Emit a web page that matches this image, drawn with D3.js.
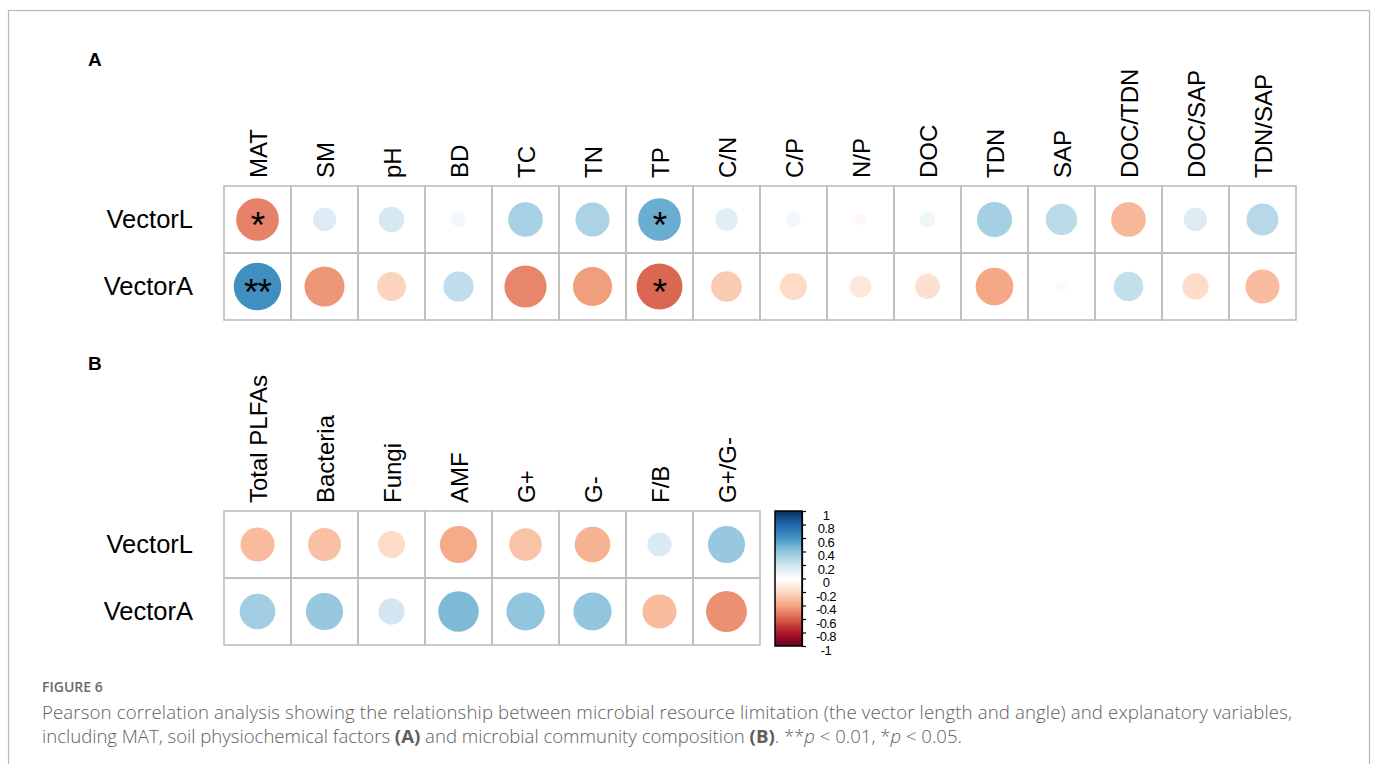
<!DOCTYPE html>
<html>
<head>
<meta charset="utf-8">
<script src="https://cdn.jsdelivr.net/npm/d3@7"></script>
<style>
  html, body { margin: 0; padding: 0; background: #ffffff; }
  svg { display: block; }
</style>
</head>
<body>
<svg id="fig" width="1377" height="764"></svg>
<script>
// ---- data -------------------------------------------------------------
const rowLabels = ["VectorL", "VectorA"];

// Panel A: MAT and soil physicochemical factors
const varsA = ["MAT", "SM", "pH", "BD", "TC", "TN", "TP", "C/N", "C/P", "N/P",
               "DOC", "TDN", "SAP", "DOC/TDN", "DOC/SAP", "TDN/SAP"];
const corrA_VectorL = [-0.50, 0.15, 0.18, 0.06, 0.33, 0.32, 0.50, 0.14, 0.06, -0.04,
                       0.07, 0.34, 0.27, -0.33, 0.15, 0.28];
const corrA_VectorA = [0.62, -0.44, -0.23, 0.25, -0.49, -0.42, -0.58, -0.26, -0.20, -0.13,
                       -0.17, -0.39, -0.04, 0.24, -0.19, -0.32];
const sigA_VectorL = ["*", "", "", "", "", "", "*", "", "", "", "", "", "", "", "", ""];
const sigA_VectorA = ["**", "", "", "", "", "", "*", "", "", "", "", "", "", "", "", ""];

// Panel B: microbial community composition
const varsB = ["Total PLFAs", "Bacteria", "Fungi", "AMF", "G+", "G-", "F/B", "G+/G-"];
const corrB_VectorL = [-0.32, -0.30, -0.20, -0.38, -0.29, -0.35, 0.16, 0.38];
const corrB_VectorA = [0.35, 0.38, 0.19, 0.45, 0.40, 0.40, -0.32, -0.46];

// Colour legend ticks
const legendTicks = [1, 0.8, 0.6, 0.4, 0.2, 0, -0.2, -0.4, -0.6, -0.8, -1];

// Diverging red-white-blue ramp, from -1 to 1
const rampColors = ["#67001F", "#B2182B", "#D6604D", "#F4A582", "#FDDBC7", "#FFFFFF",
                    "#D1E5F0", "#92C5DE", "#4393C3", "#2166AC", "#053061"];

// ---- setup ------------------------------------------------------------
const svg = d3.select("#fig");
const cell = 67;
const chartFont = "'Liberation Sans', Arial, Helvetica, sans-serif";

const color = d3.scaleLinear()
  .domain(d3.range(rampColors.length).map(i => -1 + i * 0.2))
  .range(rampColors)
  .interpolate(d3.interpolateRgb);
const radius = d3.scaleSqrt().domain([0, 1]).range([0, 0.45 * cell]);

// outer figure frame
svg.append("rect")
  .attr("x", 8.5).attr("y", 10.5)
  .attr("width", 1361).attr("height", 800)
  .attr("fill", "none").attr("stroke", "#b8b8b8").attr("stroke-width", 1.2);

function corrPanel(opts) {
  const { vars, rows, x0, y0, label, labelY } = opts;
  const g = svg.append("g");
  const x = d3.scaleBand().domain(vars).range([x0, x0 + vars.length * cell]);
  const y = d3.scaleBand().domain(rows.map(r => r.name)).range([y0, y0 + rows.length * cell]);

  // panel letter
  svg.append("text")
    .attr("x", 88).attr("y", labelY)
    .attr("font-family", chartFont).attr("font-weight", "bold")
    .attr("font-size", 19).attr("fill", "#000")
    .text(label);

  // circles and significance marks
  rows.forEach(r => {
    r.values.forEach((v, i) => {
      const cx = x(vars[i]) + x.bandwidth() / 2;
      const cy = y(r.name) + y.bandwidth() / 2;
      g.append("circle")
        .attr("cx", cx).attr("cy", cy)
        .attr("r", radius(Math.abs(v)))
        .attr("fill", color(v));
      if (r.sig && r.sig[i]) {
        g.append("text")
          .attr("x", cx).attr("y", cy + 18)
          .attr("text-anchor", "middle")
          .attr("font-family", chartFont)
          .attr("font-size", 37).attr("fill", "#000")
          .attr("letter-spacing", -1)
          .text(r.sig[i]);
      }
    });
  });

  // grid
  const gridCol = "#bdbdbd";
  vars.forEach(v => {
    rows.forEach(r => {
      g.append("rect")
        .attr("x", x(v)).attr("y", y(r.name))
        .attr("width", x.bandwidth()).attr("height", y.bandwidth())
        .attr("fill", "none").attr("stroke", gridCol).attr("stroke-width", 1.6);
    });
  });

  // column labels (vertical)
  vars.forEach(v => {
    const cx = x(v) + x.bandwidth() / 2;
    g.append("text")
      .attr("transform", `translate(${cx + 9},${y0 - 8}) rotate(-90)`)
      .attr("font-family", chartFont).attr("font-size", 24).attr("fill", "#000")
      .text(v);
  });

  // row labels
  rows.forEach(r => {
    g.append("text")
      .attr("x", x0 - 31)
      .attr("y", y(r.name) + y.bandwidth() / 2 + 8)
      .attr("text-anchor", "end")
      .attr("font-family", chartFont).attr("font-size", 25.5).attr("fill", "#000")
      .text(r.name);
  });
}

corrPanel({
  vars: varsA,
  rows: [
    { name: rowLabels[0], values: corrA_VectorL, sig: sigA_VectorL },
    { name: rowLabels[1], values: corrA_VectorA, sig: sigA_VectorA }
  ],
  x0: 224, y0: 186, label: "A", labelY: 66
});

corrPanel({
  vars: varsB,
  rows: [
    { name: rowLabels[0], values: corrB_VectorL },
    { name: rowLabels[1], values: corrB_VectorA }
  ],
  x0: 224, y0: 511, label: "B", labelY: 370
});

// ---- colour legend ----------------------------------------------------
const barX = 775, barW = 27, barTop = 511, barBottom = 646;
const defs = svg.append("defs");
const grad = defs.append("linearGradient")
  .attr("id", "corrRamp").attr("x1", 0).attr("y1", 1).attr("x2", 0).attr("y2", 0);
rampColors.forEach((c, i) => {
  grad.append("stop").attr("offset", i / (rampColors.length - 1)).attr("stop-color", c);
});
svg.append("rect")
  .attr("x", barX).attr("y", barTop)
  .attr("width", barW).attr("height", barBottom - barTop)
  .attr("fill", "url(#corrRamp)")
  .attr("stroke", "#000").attr("stroke-width", 1.5);

const legendY = d3.scaleLinear().domain([-1, 1]).range([barBottom, barTop]);
const legendAxis = svg.append("g")
  .attr("transform", `translate(${barX + barW},0)`)
  .call(d3.axisRight(legendY).tickValues(legendTicks).tickSize(4).tickFormat(d => String(d)));
legendAxis.select(".domain").attr("stroke", "#000").attr("stroke-width", 1.2);
legendAxis.selectAll(".tick line").attr("stroke", "#000").attr("stroke-width", 1.2);
legendAxis.selectAll(".tick text")
  .attr("x", 24).attr("dy", "0.62em")
  .attr("text-anchor", "middle")
  .attr("font-family", chartFont).attr("font-size", 13).attr("fill", "#000")
  .attr("letter-spacing", -0.6);

// ---- caption ------------------------------------------------------------
const capFont = "'Open Sans', 'Noto Sans', sans-serif";
svg.append("text")
  .attr("x", 42).attr("y", 692)
  .attr("font-family", capFont).attr("font-weight", 600)
  .attr("font-size", 14).attr("fill", "#6a6a6a")
  .text("FIGURE 6");

svg.append("text")
  .attr("x", 42).attr("y", 719)
  .attr("font-family", capFont).attr("font-weight", 300)
  .attr("font-size", 18.6).attr("fill", "#5e5e5e")
  .attr("textLength", 1250).attr("lengthAdjust", "spacing")
  .text("Pearson correlation analysis showing the relationship between microbial resource limitation (the vector length and angle) and explanatory variables,");

const line2 = svg.append("text")
  .attr("x", 42).attr("y", 743)
  .attr("font-family", capFont).attr("font-weight", 300)
  .attr("font-size", 18.6).attr("fill", "#5e5e5e")
  .attr("textLength", 920).attr("lengthAdjust", "spacing");
const parts = [
  ["including MAT, soil physiochemical factors ", null],
  ["(A)", "bold"],
  [" and microbial community composition ", null],
  ["(B)", "bold"],
  [". **", null],
  ["p", "italic"],
  [" < 0.01, *", null],
  ["p", "italic"],
  [" < 0.05.", null]
];
parts.forEach(([t, s]) => {
  const ts = line2.append("tspan").text(t);
  if (s === "bold") ts.attr("font-weight", 700);
  if (s === "italic") ts.attr("font-style", "italic");
});
</script>
</body>
</html>
